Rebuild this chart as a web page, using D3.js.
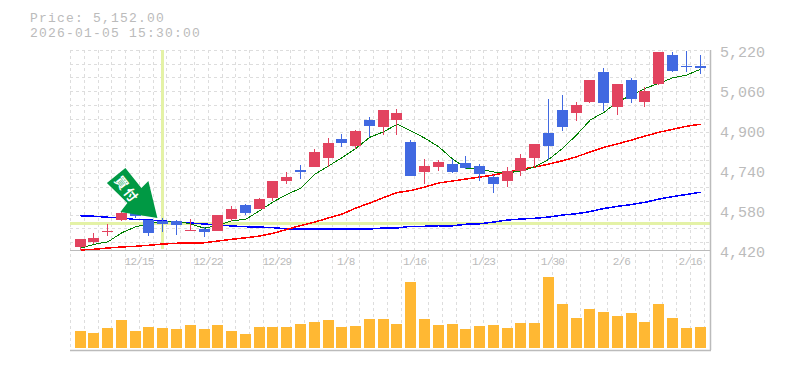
<!DOCTYPE html>
<html>
<head>
<meta charset="utf-8">
<script src="https://cdn.jsdelivr.net/npm/d3@7"></script>
<style>
  html, body { margin: 0; padding: 0; background: #fff; }
  text { font-family: "Liberation Mono", monospace; fill: #bbb; }
</style>
</head>
<body>
<svg id="chart" width="785" height="370"></svg>
<script>
const dateLabels = ["12/15", "12/22", "12/29", "1/8", "1/16", "1/23", "1/30", "2/6", "2/16"]
const dateIndex = [4, 9, 14, 19, 24, 29, 34, 39, 44]
const priceTicks = [4420, 4580, 4740, 4900, 5060, 5220]
const infoLines = ["Price: 5,152.00", "2026-01-05 15:30:00"]
const crossIndex = 6
const crossPrice = 4528

const opens = [4433,4452,4494,4540,4600,4540,4537,4537,4500,4504,4496,4544,4600,4583,4628,4696,4740,4752,4788,4864,4836,4940,4912,4940,4852,4732,4752,4764,4768,4756,4712,4696,4736,4788,4888,4980,4968,5012,5132,4992,5100,5012,5084,5200,5156,5156]
const highs = [4463,4487,4524,4572,4604,4540,4547,4540,4545,4512,4560,4596,4604,4628,4696,4732,4760,4824,4868,4884,4900,4952,4980,4984,4860,4784,4780,4784,4796,4764,4720,4752,4804,4844,5024,5040,5012,5100,5148,5084,5108,5072,5212,5212,5216,5200]
const lows = [4420,4444,4476,4537,4548,4476,4493,4480,4500,4472,4496,4537,4560,4583,4617,4686,4704,4752,4752,4832,4824,4872,4880,4880,4716,4684,4736,4728,4744,4696,4648,4672,4716,4752,4780,4896,4936,5008,4976,4960,5008,4992,5080,5132,5132,5124]
const closes = [4463,4468,4497,4568,4556,4489,4527,4521,4502,4492,4560,4583,4568,4623,4696,4712,4732,4812,4848,4848,4896,4916,4980,4968,4716,4756,4772,4732,4748,4724,4684,4736,4788,4844,4836,4912,5000,5100,5008,5084,5024,5056,5212,5136,5152,5148]
const volumes = [17,15,20,28,17,21,20,19,23,19,23,17,14,21,21,21,24,26,28,21,22,29,29,24,66,29,23,24,19,22,23,20,25,25,71,44,30,39,36,32,35,26,44,30,20,21]

const ma5 = [4427,4443,4453,4489,4513,4524,4536,4536,4524,4507,4520,4537,4543,4577,4613,4643,4667,4723,4756,4790,4827,4871,4893,4923,4896,4867,4833,4784,4748,4743,4732,4729,4736,4753,4783,4827,4880,4940,4971,5013,5040,5067,5087,5109,5120,5143]
const ma25 = [4420,4423,4428,4432,4435,4439,4444,4447,4448,4449,4456,4463,4469,4476,4487,4503,4518,4532,4548,4564,4588,4608,4630,4650,4658,4672,4688,4696,4704,4712,4720,4731,4743,4752,4764,4777,4793,4812,4831,4845,4860,4876,4891,4903,4915,4923]
const ma75 = [4557,4555,4551,4548,4542,4540,4536,4532,4528,4524,4520,4516,4513,4512,4509,4505,4504,4504,4504,4504,4504,4504,4508,4508,4515,4515,4517,4517,4523,4525,4532,4540,4544,4547,4552,4560,4565,4574,4586,4595,4602,4611,4624,4634,4642,4651]

const plotLeft = 70, plotRight = 710, plotTop = 50, plotMid = 250, plotBottom = 350
const barW = 11
const upColor = "#e2435f", downColor = "#4169e1", volColor = "#ffb833", gridColor = "#ddd", axisColor = "#bbb"

const svg = d3.select("#chart")
const idx = d3.range(opens.length)

const x = d3.scalePoint().domain(idx).range([80.5, 700.5])
const y = d3.scaleLinear().domain([4420, 5220]).range([plotMid, plotTop])
const yVol = d3.scaleLinear().domain([0, 71]).range([348, 277])
const barX = i => Math.floor(x(i) - barW / 2)

// grid, vertical lines run through both panels
const step = x.step()
const gridX = d3.range(plotLeft, plotRight, step).map(d => Math.round(d) + 0.5)
const gridY = d3.range(0, 15).map(i => Math.round(plotTop + i * 13.72) + 0.5)

svg.append("g").selectAll("line").data(gridX).join("line")
    .attr("x1", d => d).attr("x2", d => d)
    .attr("y1", plotTop).attr("y2", 349)
    .attr("stroke", gridColor).attr("stroke-dasharray", "3,3")
svg.append("g").selectAll("line").data(gridY).join("line")
    .attr("x1", plotLeft).attr("x2", plotRight)
    .attr("y1", d => d).attr("y2", d => d)
    .attr("stroke", gridColor).attr("stroke-dasharray", "3,3")

// crosshair
svg.append("rect").attr("x", Math.floor(x(crossIndex)) - 2).attr("y", plotTop).attr("width", 3).attr("height", 199).attr("fill", "#e4f2a6")
svg.append("rect").attr("x", plotLeft).attr("y", Math.round(y(crossPrice)) - 1).attr("width", plotRight - plotLeft).attr("height", 3).attr("fill", "#e4f2a6")

// panel borders
svg.append("line").attr("x1", plotLeft).attr("x2", plotRight).attr("y1", plotMid + 0.5).attr("y2", plotMid + 0.5).attr("stroke", axisColor)
svg.append("line").attr("x1", plotLeft).attr("x2", plotRight + 1).attr("y1", plotBottom + 0.5).attr("y2", plotBottom + 0.5).attr("stroke", axisColor).attr("stroke-width", 1.5)
svg.append("line").attr("x1", plotRight + 0.5).attr("x2", plotRight + 0.5).attr("y1", plotTop).attr("y2", plotBottom).attr("stroke", axisColor).attr("stroke-width", 1.5)

// axes
const xLabels = d3.scaleOrdinal().domain(dateIndex).range(dateLabels)
const xAxis = d3.axisBottom(x).tickValues(dateIndex).tickFormat(d => xLabels(d)).tickSize(0).tickPadding(7)
const gx = svg.append("g").attr("transform", `translate(3,${plotMid})`).call(xAxis)
gx.select(".domain").remove()
gx.selectAll("text")
    .attr("font-size", 11)
    .attr("letter-spacing", -0.8)

const yAxis = d3.axisRight(y).tickValues(priceTicks).tickFormat(d3.format(",")).tickSize(0).tickPadding(0)
const gy = svg.append("g").attr("transform", `translate(720,2)`).call(yAxis)
gy.select(".domain").remove()
gy.selectAll("text").attr("font-size", 15)

// volume
svg.append("g").selectAll("rect").data(idx).join("rect")
    .attr("x", barX)
    .attr("width", barW)
    .attr("y", i => Math.round(yVol(volumes[i])))
    .attr("height", i => 348 - Math.round(yVol(volumes[i])))
    .attr("fill", volColor)

// moving averages
const line = d3.line().x((d, i) => x(i)).y(d => y(d))
const maLines = [[ma75, "#0000ff", 1.5], [ma25, "#ff0000", 1.5], [ma5, "#008000", 1]]
svg.append("g").attr("shape-rendering", "crispEdges").selectAll("path").data(maLines).join("path")
    .attr("d", d => line(d[0]))
    .attr("fill", "none")
    .attr("stroke", d => d[1])
    .attr("stroke-width", d => d[2])

// candles
const candleColor = i => closes[i] >= opens[i] ? upColor : downColor
const candles = svg.append("g").attr("shape-rendering", "crispEdges")
candles.selectAll("line").data(idx).join("line")
    .attr("x1", i => barX(i) + 5.5).attr("x2", i => barX(i) + 5.5)
    .attr("y1", i => y(highs[i])).attr("y2", i => y(lows[i]))
    .attr("stroke", candleColor)
candles.selectAll("rect").data(idx).join("rect")
    .attr("x", barX)
    .attr("width", barW)
    .attr("y", i => Math.round(y(Math.max(opens[i], closes[i]))))
    .attr("height", i => Math.max(1, Math.round(Math.abs(opens[i] - closes[i]) / 4)))
    .attr("fill", candleColor)

// arrow sign, its tip sits on the 5th bar
const arrow = svg.append("g").attr("transform", `translate(${x(5) + 8},${y(4532) - 4})`)
arrow.append("polygon")
    .attr("points", "-32,-50 -50.5,-35 -30,-15 -37,-6 0,0 -9,-37 -16,-30")
    .attr("fill", "#009944")
arrow.append("text")
    .attr("transform", "translate(-30,-29) rotate(52)")
    .attr("text-anchor", "middle").attr("dominant-baseline", "central")
    .attr("font-size", 13).attr("font-weight", "bold").attr("letter-spacing", 2)
    .style("font-family", '"Noto Sans CJK JP"').style("fill", "#fff")
    .text("買付")

// price readout
svg.selectAll(".info").data(infoLines).join("text")
    .attr("class", "info")
    .attr("x", 30).attr("y", (d, i) => 22 + i * 15)
    .attr("font-size", 13).attr("letter-spacing", 1.2)
    .text(d => d)
</script>
</body>
</html>
